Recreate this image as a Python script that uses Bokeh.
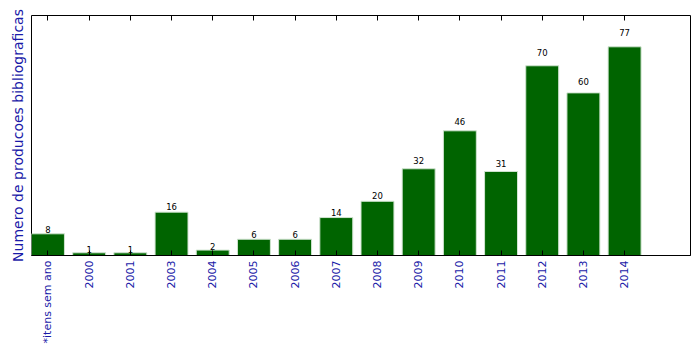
import math
from bokeh.plotting import figure
from bokeh.models import FixedTicker, LinearAxis, Range1d, ColumnDataSource
from bokeh.core.properties import value
from bokeh.embed import file_html
from bokeh.resources import INLINE

categories = ["*itens sem ano", "2000", "2001", "2003", "2004", "2005", "2006",
              "2007", "2008", "2009", "2010", "2011", "2012", "2013", "2014"]
counts = [8, 1, 1, 16, 2, 6, 6, 14, 20, 32, 46, 31, 70, 60, 77]

bar_w = 0.8
lefts = list(range(len(categories)))
centers = [i + bar_w / 2 for i in lefts]
label_y = [c * 1.05 for c in counts]

src = ColumnDataSource(dict(left=lefts, right=[l + bar_w for l in lefts],
                            top=counts, x=centers, ly=label_y,
                            txt=[str(c) for c in counts]))

p = figure(width=699, height=354, output_backend="svg", toolbar_location=None,
           x_range=Range1d(0, 16), y_range=Range1d(0, max(counts) * 1.15),
           min_border_left=31, min_border_right=9, min_border_top=15,
           min_border_bottom=99)
p.grid.visible = False
p.background_fill_color = "white"
p.border_fill_color = "white"
p.outline_line_color = "black"
p.outline_line_width = 1

p.quad(left="left", right="right", bottom=0, top="top", source=src,
       fill_color="#006400", line_color="#d0e4d0", line_width=1)
p.text(x="x", y="ly", text="txt", source=src, text_align="center",
       text_baseline="bottom", text_font_size="8.5px", text_color="black",
       text_font=value("DejaVu Sans"))

blue = "#1a1aa8"
xa = p.xaxis[0]
xa.ticker = FixedTicker(ticks=centers)
xa.major_label_overrides = {c: lab for c, lab in zip(centers, categories)}
xa.major_label_orientation = math.pi / 2
xa.major_label_text_color = blue
xa.major_label_text_font = "DejaVu Sans"
xa.major_label_text_font_size = "11px"
xa.major_label_standoff = 5
xa.major_tick_in = 5
xa.major_tick_out = 0
xa.minor_tick_line_color = None
xa.axis_line_color = "black"
xa.major_tick_line_color = "black"

top_ax = LinearAxis(ticker=FixedTicker(ticks=centers))
top_ax.major_label_overrides = {c: "" for c in centers}
top_ax.major_label_standoff = 0
top_ax.major_tick_in = 5
top_ax.major_tick_out = 0
top_ax.minor_tick_line_color = None
top_ax.axis_line_color = None
p.add_layout(top_ax, "above")

ya = p.yaxis[0]
ya.ticker = FixedTicker(ticks=[])
ya.axis_label = "Numero de producoes bibliograficas"
ya.axis_label_text_color = blue
ya.axis_label_text_font = "DejaVu Sans"
ya.axis_label_text_font_size = "14px"
ya.axis_label_text_font_style = "normal"
ya.axis_label_standoff = 6
ya.major_tick_line_color = None
ya.minor_tick_line_color = None
ya.axis_line_color = None

open("out.html", "w").write(file_html(p, INLINE))
